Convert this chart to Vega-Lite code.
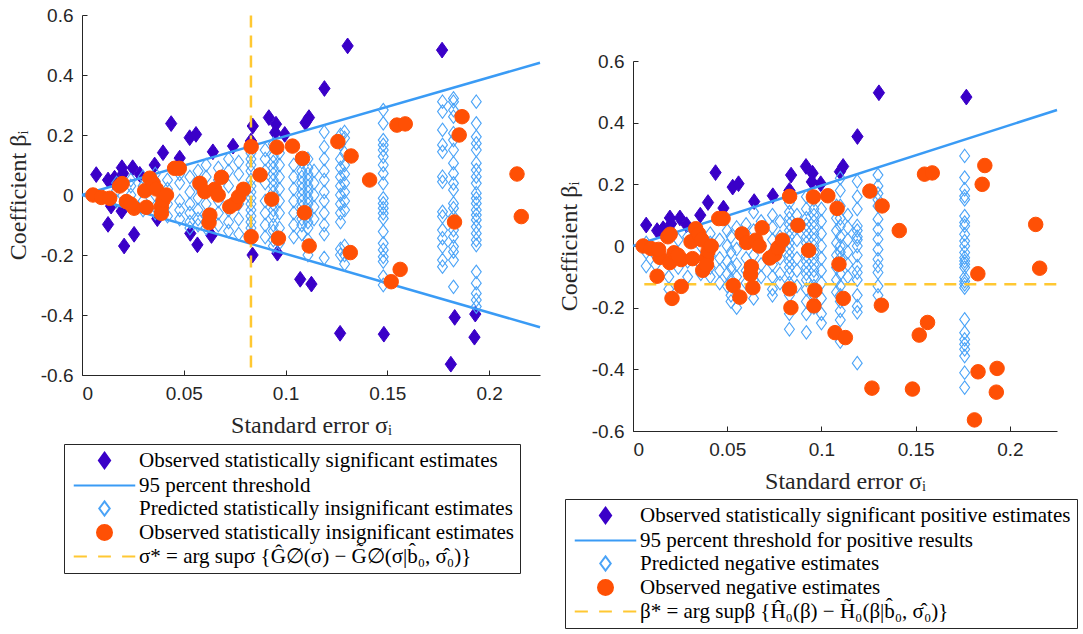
{
"$schema": "https://vega.github.io/schema/vega-lite/v6.json",
"background": "white",
"padding": {"left": 6, "top": 6, "right": 0, "bottom": 0},
"spacing": 12,
"config": {
  "view": {"stroke": null},
  "axis": {"grid": false, "domainColor": "#262626", "tickColor": "#262626", "labelColor": "#262626", "titleColor": "#262626", "labelFont": "Liberation Sans", "labelFontSize": 19, "titleFont": "Liberation Serif", "titleFontSize": 24, "titleFontWeight": "normal", "tickSize": -5, "labelPadding": 14, "titlePadding": 10},
  "legend": {"labelFont": "Liberation Serif", "labelFontSize": 21, "labelColor": "#000000", "strokeColor": "#262626", "fillColor": "white", "padding": 6, "rowPadding": 1, "symbolSize": 225, "labelLimit": 1000, "symbolStrokeWidth": 2, "symbolFillColor": "transparent", "symbolOpacity": 1}
},
"datasets": {
 "left": [
  {"x":0.017,"y":0.04,"c":"c"},{"x":0.017,"y":0.015,"c":"c"},{"x":0.017,"y":-0.02,"c":"c"},
  {"x":0.024,"y":0.05,"c":"c"},{"x":0.024,"y":0.03,"c":"c"},{"x":0.024,"y":0.0,"c":"c"},{"x":0.024,"y":-0.03,"c":"c"},
  {"x":0.03,"y":0.06,"c":"c"},{"x":0.03,"y":0.03,"c":"c"},{"x":0.03,"y":-0.02,"c":"c"},{"x":0.03,"y":-0.05,"c":"c"},
  {"x":0.036,"y":0.07,"c":"c"},{"x":0.036,"y":0.045,"c":"c"},{"x":0.036,"y":0.0,"c":"c"},{"x":0.036,"y":-0.04,"c":"c"},{"x":0.036,"y":-0.06,"c":"c"},
  {"x":0.042,"y":0.05,"c":"c"},{"x":0.042,"y":0.02,"c":"c"},{"x":0.042,"y":-0.03,"c":"c"},{"x":0.042,"y":-0.07,"c":"c"},
  {"x":0.048,"y":0.07,"c":"c"},{"x":0.048,"y":0.04,"c":"c"},{"x":0.048,"y":-0.02,"c":"c"},{"x":0.048,"y":-0.05,"c":"c"},{"x":0.048,"y":-0.08,"c":"c"},
  {"x":0.053,"y":0.06,"c":"c"},{"x":0.053,"y":0.01,"c":"c"},{"x":0.053,"y":-0.03,"c":"c"},{"x":0.053,"y":-0.06,"c":"c"},{"x":0.053,"y":-0.09,"c":"c"},{"x":0.053,"y":-0.11,"c":"c"},
  {"x":0.057,"y":0.08,"c":"c"},{"x":0.057,"y":0.03,"c":"c"},{"x":0.057,"y":-0.01,"c":"c"},{"x":0.057,"y":-0.05,"c":"c"},{"x":0.057,"y":-0.08,"c":"c"},{"x":0.057,"y":-0.1,"c":"c"},
  {"x":0.061,"y":0.1,"c":"c"},{"x":0.061,"y":0.06,"c":"c"},{"x":0.061,"y":-0.03,"c":"c"},{"x":0.061,"y":-0.07,"c":"c"},{"x":0.061,"y":-0.11,"c":"c"},
  {"x":0.067,"y":0.09,"c":"c"},{"x":0.067,"y":0.05,"c":"c"},{"x":0.067,"y":-0.02,"c":"c"},{"x":0.067,"y":-0.06,"c":"c"},{"x":0.067,"y":-0.1,"c":"c"},
  {"x":0.072,"y":0.12,"c":"c"},{"x":0.072,"y":0.08,"c":"c"},{"x":0.072,"y":0.03,"c":"c"},{"x":0.072,"y":-0.05,"c":"c"},{"x":0.072,"y":-0.09,"c":"c"},{"x":0.072,"y":-0.12,"c":"c"},
  {"x":0.077,"y":0.11,"c":"c"},{"x":0.077,"y":0.07,"c":"c"},{"x":0.077,"y":-0.03,"c":"c"},{"x":0.077,"y":-0.08,"c":"c"},{"x":0.077,"y":-0.13,"c":"c"},
  {"x":0.083,"y":0.14,"c":"c"},{"x":0.083,"y":0.12,"c":"c"},{"x":0.083,"y":0.1,"c":"c"},{"x":0.083,"y":0.08,"c":"c"},{"x":0.083,"y":0.05,"c":"c"},{"x":0.083,"y":0.03,"c":"c"},{"x":0.083,"y":0.01,"c":"c"},{"x":0.083,"y":-0.01,"c":"c"},{"x":0.083,"y":-0.03,"c":"c"},{"x":0.083,"y":-0.05,"c":"c"},{"x":0.083,"y":-0.07,"c":"c"},{"x":0.083,"y":-0.09,"c":"c"},{"x":0.083,"y":-0.11,"c":"c"},{"x":0.083,"y":-0.13,"c":"c"},
  {"x":0.09,"y":0.15,"c":"c"},{"x":0.09,"y":0.12,"c":"c"},{"x":0.09,"y":0.08,"c":"c"},{"x":0.09,"y":0.04,"c":"c"},{"x":0.09,"y":-0.02,"c":"c"},{"x":0.09,"y":-0.06,"c":"c"},{"x":0.09,"y":-0.1,"c":"c"},{"x":0.09,"y":-0.14,"c":"c"},
  {"x":0.094,"y":0.17,"c":"c"},{"x":0.094,"y":0.13,"c":"c"},{"x":0.094,"y":0.11,"c":"c"},{"x":0.094,"y":0.09,"c":"c"},{"x":0.094,"y":0.07,"c":"c"},{"x":0.094,"y":0.05,"c":"c"},{"x":0.094,"y":0.03,"c":"c"},{"x":0.094,"y":0.01,"c":"c"},{"x":0.094,"y":-0.01,"c":"c"},{"x":0.094,"y":-0.03,"c":"c"},{"x":0.094,"y":-0.05,"c":"c"},{"x":0.094,"y":-0.07,"c":"c"},{"x":0.094,"y":-0.1,"c":"c"},{"x":0.094,"y":-0.12,"c":"c"},{"x":0.094,"y":-0.15,"c":"c"},{"x":0.094,"y":-0.17,"c":"c"},
  {"x":0.097,"y":0.14,"c":"c"},{"x":0.097,"y":0.1,"c":"c"},{"x":0.097,"y":0.06,"c":"c"},{"x":0.097,"y":0.02,"c":"c"},{"x":0.097,"y":-0.02,"c":"c"},{"x":0.097,"y":-0.06,"c":"c"},{"x":0.097,"y":-0.11,"c":"c"},{"x":0.097,"y":-0.16,"c":"c"},
  {"x":0.104,"y":0.1,"c":"c"},{"x":0.104,"y":0.06,"c":"c"},{"x":0.104,"y":0.02,"c":"c"},{"x":0.104,"y":-0.02,"c":"c"},{"x":0.104,"y":-0.06,"c":"c"},{"x":0.104,"y":-0.1,"c":"c"},{"x":0.104,"y":-0.14,"c":"c"},
  {"x":0.108,"y":0.11,"c":"c"},{"x":0.108,"y":0.08,"c":"c"},{"x":0.108,"y":0.06,"c":"c"},{"x":0.108,"y":0.04,"c":"c"},{"x":0.108,"y":0.02,"c":"c"},{"x":0.108,"y":0.0,"c":"c"},{"x":0.108,"y":-0.02,"c":"c"},{"x":0.108,"y":-0.04,"c":"c"},{"x":0.108,"y":-0.06,"c":"c"},{"x":0.108,"y":-0.08,"c":"c"},{"x":0.108,"y":-0.1,"c":"c"},{"x":0.108,"y":-0.13,"c":"c"},
  {"x":0.111,"y":0.12,"c":"c"},{"x":0.111,"y":0.09,"c":"c"},{"x":0.111,"y":0.07,"c":"c"},{"x":0.111,"y":0.05,"c":"c"},{"x":0.111,"y":0.03,"c":"c"},{"x":0.111,"y":0.01,"c":"c"},{"x":0.111,"y":-0.01,"c":"c"},{"x":0.111,"y":-0.03,"c":"c"},{"x":0.111,"y":-0.05,"c":"c"},{"x":0.111,"y":-0.07,"c":"c"},{"x":0.111,"y":-0.09,"c":"c"},{"x":0.111,"y":-0.11,"c":"c"},{"x":0.111,"y":-0.15,"c":"c"},{"x":0.111,"y":-0.2,"c":"c"},
  {"x":0.114,"y":0.08,"c":"c"},{"x":0.114,"y":0.04,"c":"c"},{"x":0.114,"y":0.0,"c":"c"},{"x":0.114,"y":-0.04,"c":"c"},{"x":0.114,"y":-0.08,"c":"c"},
  {"x":0.119,"y":0.21,"c":"c"},{"x":0.119,"y":0.16,"c":"c"},{"x":0.119,"y":0.12,"c":"c"},{"x":0.119,"y":0.08,"c":"c"},{"x":0.119,"y":0.05,"c":"c"},{"x":0.119,"y":0.01,"c":"c"},{"x":0.119,"y":-0.02,"c":"c"},{"x":0.119,"y":-0.06,"c":"c"},{"x":0.119,"y":-0.1,"c":"c"},{"x":0.119,"y":-0.13,"c":"c"},{"x":0.119,"y":-0.21,"c":"c"},
  {"x":0.127,"y":0.2,"c":"c"},{"x":0.127,"y":0.17,"c":"c"},{"x":0.127,"y":0.12,"c":"c"},{"x":0.127,"y":0.09,"c":"c"},{"x":0.127,"y":0.06,"c":"c"},{"x":0.127,"y":0.03,"c":"c"},{"x":0.127,"y":0.0,"c":"c"},{"x":0.127,"y":-0.03,"c":"c"},{"x":0.127,"y":-0.06,"c":"c"},{"x":0.127,"y":-0.09,"c":"c"},{"x":0.127,"y":-0.18,"c":"c"},{"x":0.127,"y":-0.2,"c":"c"},
  {"x":0.129,"y":0.21,"c":"c"},{"x":0.129,"y":0.19,"c":"c"},{"x":0.129,"y":0.14,"c":"c"},{"x":0.129,"y":0.1,"c":"c"},{"x":0.129,"y":0.07,"c":"c"},{"x":0.129,"y":0.04,"c":"c"},{"x":0.129,"y":0.01,"c":"c"},{"x":0.129,"y":-0.02,"c":"c"},{"x":0.129,"y":-0.05,"c":"c"},{"x":0.129,"y":-0.17,"c":"c"},{"x":0.129,"y":-0.2,"c":"c"},{"x":0.129,"y":-0.23,"c":"c"},
  {"x":0.148,"y":0.283,"c":"c"},{"x":0.148,"y":0.239,"c":"c"},{"x":0.148,"y":0.183,"c":"c"},{"x":0.148,"y":0.167,"c":"c"},{"x":0.148,"y":0.15,"c":"c"},{"x":0.148,"y":0.128,"c":"c"},{"x":0.148,"y":0.1,"c":"c"},{"x":0.148,"y":0.072,"c":"c"},{"x":0.148,"y":0.039,"c":"c"},{"x":0.148,"y":-0.011,"c":"c"},{"x":0.148,"y":-0.028,"c":"c"},{"x":0.148,"y":-0.044,"c":"c"},{"x":0.148,"y":-0.061,"c":"c"},{"x":0.148,"y":-0.078,"c":"c"},{"x":0.148,"y":-0.122,"c":"c"},{"x":0.148,"y":-0.161,"c":"c"},{"x":0.148,"y":-0.183,"c":"c"},{"x":0.148,"y":-0.206,"c":"c"},{"x":0.148,"y":-0.222,"c":"c"},{"x":0.148,"y":-0.272,"c":"c"},{"x":0.148,"y":-0.3,"c":"c"},
  {"x":0.1771,"y":0.311,"c":"c"},{"x":0.1771,"y":0.278,"c":"c"},{"x":0.1771,"y":0.217,"c":"c"},{"x":0.1771,"y":0.167,"c":"c"},{"x":0.1771,"y":0.144,"c":"c"},{"x":0.1771,"y":0.061,"c":"c"},{"x":0.1771,"y":0.044,"c":"c"},{"x":0.1771,"y":-0.056,"c":"c"},{"x":0.1771,"y":-0.072,"c":"c"},{"x":0.1771,"y":-0.117,"c":"c"},{"x":0.1771,"y":-0.144,"c":"c"},{"x":0.1771,"y":-0.172,"c":"c"},{"x":0.1771,"y":-0.217,"c":"c"},{"x":0.1771,"y":-0.239,"c":"c"},
  {"x":0.1825,"y":0.322,"c":"c"},{"x":0.1825,"y":0.311,"c":"c"},{"x":0.1825,"y":0.283,"c":"c"},{"x":0.1825,"y":0.261,"c":"c"},{"x":0.1825,"y":0.206,"c":"c"},{"x":0.1825,"y":0.183,"c":"c"},{"x":0.1825,"y":0.15,"c":"c"},{"x":0.1825,"y":0.106,"c":"c"},{"x":0.1825,"y":0.072,"c":"c"},{"x":0.1825,"y":0.039,"c":"c"},{"x":0.1825,"y":0.017,"c":"c"},{"x":0.1825,"y":-0.028,"c":"c"},{"x":0.1825,"y":-0.044,"c":"c"},{"x":0.1825,"y":-0.072,"c":"c"},{"x":0.1825,"y":-0.117,"c":"c"},{"x":0.1825,"y":-0.139,"c":"c"},{"x":0.1825,"y":-0.172,"c":"c"},{"x":0.1825,"y":-0.189,"c":"c"},{"x":0.1825,"y":-0.217,"c":"c"},{"x":0.1825,"y":-0.306,"c":"c"},
  {"x":0.1937,"y":0.311,"c":"c"},{"x":0.1937,"y":0.239,"c":"c"},{"x":0.1937,"y":0.194,"c":"c"},{"x":0.1937,"y":0.172,"c":"c"},{"x":0.1937,"y":0.15,"c":"c"},{"x":0.1937,"y":0.106,"c":"c"},{"x":0.1937,"y":0.083,"c":"c"},{"x":0.1937,"y":0.061,"c":"c"},{"x":0.1937,"y":0.039,"c":"c"},{"x":0.1937,"y":0.006,"c":"c"},{"x":0.1937,"y":-0.011,"c":"c"},{"x":0.1937,"y":-0.028,"c":"c"},{"x":0.1937,"y":-0.05,"c":"c"},{"x":0.1937,"y":-0.067,"c":"c"},{"x":0.1937,"y":-0.083,"c":"c"},{"x":0.1937,"y":-0.106,"c":"c"},{"x":0.1937,"y":-0.128,"c":"c"},{"x":0.1937,"y":-0.15,"c":"c"},{"x":0.1937,"y":-0.167,"c":"c"},{"x":0.1937,"y":-0.256,"c":"c"},{"x":0.1937,"y":-0.294,"c":"c"},{"x":0.1937,"y":-0.328,"c":"c"},{"x":0.1937,"y":-0.35,"c":"c"},{"x":0.1937,"y":-0.372,"c":"c"},
  {"x":0.007,"y":0.068,"c":"a"},{"x":0.0128,"y":0.05,"c":"a"},{"x":0.0152,"y":0.047,"c":"a"},{"x":0.016,"y":0.056,"c":"a"},{"x":0.0196,"y":0.091,"c":"a"},{"x":0.0202,"y":0.072,"c":"a"},{"x":0.0249,"y":0.091,"c":"a"},{"x":0.0284,"y":0.069,"c":"a"},{"x":0.0357,"y":0.1,"c":"a"},{"x":0.0398,"y":0.141,"c":"a"},{"x":0.0438,"y":0.238,"c":"a"},{"x":0.048,"y":0.123,"c":"a"},{"x":0.0529,"y":0.191,"c":"a"},{"x":0.056,"y":0.202,"c":"a"},{"x":0.0643,"y":0.144,"c":"a"},{"x":0.0742,"y":0.163,"c":"a"},{"x":0.083,"y":0.18,"c":"a"},{"x":0.0839,"y":0.23,"c":"a"},{"x":0.0918,"y":0.258,"c":"a"},{"x":0.0953,"y":0.236,"c":"a"},{"x":0.0949,"y":0.208,"c":"a"},{"x":0.0996,"y":0.202,"c":"a"},{"x":0.1098,"y":0.241,"c":"a"},{"x":0.1115,"y":0.258,"c":"a"},{"x":0.1191,"y":0.355,"c":"a"},{"x":0.1305,"y":0.497,"c":"a"},{"x":0.1769,"y":0.483,"c":"a"},
  {"x":0.0143,"y":-0.037,"c":"a"},{"x":0.0195,"y":-0.054,"c":"a"},{"x":0.037,"y":-0.079,"c":"a"},{"x":0.0128,"y":-0.098,"c":"a"},{"x":0.0207,"y":-0.17,"c":"a"},{"x":0.0256,"y":-0.131,"c":"a"},{"x":0.0532,"y":-0.128,"c":"a"},{"x":0.0567,"y":-0.166,"c":"a"},{"x":0.0636,"y":-0.135,"c":"a"},{"x":0.0838,"y":-0.2,"c":"a"},{"x":0.096,"y":-0.194,"c":"a"},{"x":0.1072,"y":-0.281,"c":"a"},{"x":0.1127,"y":-0.297,"c":"a"},{"x":0.1268,"y":-0.461,"c":"a"},{"x":0.1483,"y":-0.464,"c":"a"},{"x":0.1812,"y":-0.564,"c":"a"},{"x":0.1831,"y":-0.408,"c":"a"},{"x":0.1932,"y":-0.397,"c":"a"},{"x":0.1928,"y":-0.474,"c":"a"},
  {"x":0.0054,"y":0.0,"c":"d"},{"x":0.0095,"y":-0.008,"c":"d"},{"x":0.0136,"y":-0.011,"c":"d"},{"x":0.0185,"y":0.03,"c":"d"},{"x":0.0197,"y":0.038,"c":"d"},{"x":0.0218,"y":-0.022,"c":"d"},{"x":0.0256,"y":-0.044,"c":"d"},{"x":0.0239,"y":-0.03,"c":"d"},{"x":0.0308,"y":0.014,"c":"d"},{"x":0.0316,"y":-0.041,"c":"d"},{"x":0.0333,"y":0.056,"c":"d"},{"x":0.0349,"y":0.039,"c":"d"},{"x":0.0365,"y":0.02,"c":"d"},{"x":0.039,"y":-0.039,"c":"d"},{"x":0.039,"y":-0.061,"c":"d"},{"x":0.0398,"y":-0.017,"c":"d"},{"x":0.0415,"y":0.0,"c":"d"},{"x":0.0455,"y":0.089,"c":"d"},{"x":0.0478,"y":0.089,"c":"d"},{"x":0.0579,"y":0.039,"c":"d"},{"x":0.0603,"y":0.011,"c":"d"},{"x":0.0624,"y":-0.092,"c":"d"},{"x":0.0628,"y":-0.067,"c":"d"},{"x":0.0652,"y":0.019,"c":"d"},{"x":0.0669,"y":0.0,"c":"d"},{"x":0.0685,"y":0.059,"c":"d"},{"x":0.0726,"y":-0.039,"c":"d"},{"x":0.0752,"y":-0.028,"c":"d"},{"x":0.0769,"y":-0.006,"c":"d"},{"x":0.0793,"y":0.019,"c":"d"},{"x":0.0831,"y":0.161,"c":"d"},{"x":0.0831,"y":-0.139,"c":"d"},{"x":0.0875,"y":0.067,"c":"d"},{"x":0.0932,"y":-0.014,"c":"d"},{"x":0.0957,"y":0.159,"c":"d"},{"x":0.0965,"y":-0.144,"c":"d"},{"x":0.1034,"y":0.163,"c":"d"},{"x":0.1083,"y":0.122,"c":"d"},{"x":0.1093,"y":-0.059,"c":"d"},{"x":0.1116,"y":-0.17,"c":"d"},{"x":0.1257,"y":0.178,"c":"d"},{"x":0.1318,"y":-0.192,"c":"d"},{"x":0.1322,"y":0.13,"c":"d"},{"x":0.1413,"y":0.05,"c":"d"},{"x":0.1519,"y":-0.289,"c":"d"},{"x":0.1547,"y":0.233,"c":"d"},{"x":0.1563,"y":-0.248,"c":"d"},{"x":0.1588,"y":0.237,"c":"d"},{"x":0.183,"y":-0.09,"c":"d"},{"x":0.1853,"y":0.2,"c":"d"},{"x":0.1867,"y":0.261,"c":"d"},{"x":0.2137,"y":0.07,"c":"d"},{"x":0.2158,"y":-0.072,"c":"d"}
 ],
 "right": [
  {"x":0.007,"y":0.01,"c":"c"},{"x":0.007,"y":-0.02,"c":"c"},{"x":0.007,"y":-0.065,"c":"c"},
  {"x":0.012,"y":-0.03,"c":"c"},{"x":0.012,"y":-0.06,"c":"c"},
  {"x":0.019,"y":-0.04,"c":"c"},{"x":0.019,"y":-0.1,"c":"c"},{"x":0.019,"y":-0.14,"c":"c"},
  {"x":0.024,"y":0.02,"c":"c"},{"x":0.024,"y":-0.03,"c":"c"},{"x":0.024,"y":-0.07,"c":"c"},
  {"x":0.029,"y":0.03,"c":"c"},{"x":0.029,"y":-0.05,"c":"c"},{"x":0.029,"y":-0.1,"c":"c"},
  {"x":0.036,"y":0.0,"c":"c"},{"x":0.036,"y":-0.06,"c":"c"},{"x":0.036,"y":-0.09,"c":"c"},
  {"x":0.041,"y":0.04,"c":"c"},{"x":0.041,"y":0.01,"c":"c"},{"x":0.041,"y":-0.03,"c":"c"},{"x":0.041,"y":-0.07,"c":"c"},{"x":0.041,"y":-0.1,"c":"c"},
  {"x":0.046,"y":0.02,"c":"c"},{"x":0.046,"y":-0.04,"c":"c"},{"x":0.046,"y":-0.08,"c":"c"},{"x":0.046,"y":-0.12,"c":"c"},
  {"x":0.05,"y":0.05,"c":"c"},{"x":0.05,"y":0.0,"c":"c"},{"x":0.05,"y":-0.05,"c":"c"},{"x":0.05,"y":-0.09,"c":"c"},{"x":0.05,"y":-0.13,"c":"c"},
  {"x":0.052,"y":0.03,"c":"c"},{"x":0.052,"y":-0.02,"c":"c"},{"x":0.052,"y":-0.07,"c":"c"},{"x":0.052,"y":-0.11,"c":"c"},{"x":0.052,"y":-0.16,"c":"c"},{"x":0.052,"y":-0.18,"c":"c"},
  {"x":0.055,"y":0.06,"c":"c"},{"x":0.055,"y":-0.01,"c":"c"},{"x":0.055,"y":-0.06,"c":"c"},{"x":0.055,"y":-0.1,"c":"c"},{"x":0.055,"y":-0.15,"c":"c"},{"x":0.055,"y":-0.2,"c":"c"},
  {"x":0.06,"y":0.07,"c":"c"},{"x":0.06,"y":0.02,"c":"c"},{"x":0.06,"y":-0.04,"c":"c"},{"x":0.06,"y":-0.08,"c":"c"},{"x":0.06,"y":-0.12,"c":"c"},
  {"x":0.064,"y":0.11,"c":"c"},{"x":0.064,"y":0.05,"c":"c"},{"x":0.064,"y":-0.03,"c":"c"},{"x":0.064,"y":-0.11,"c":"c"},{"x":0.064,"y":-0.17,"c":"c"},
  {"x":0.068,"y":0.08,"c":"c"},{"x":0.068,"y":0.0,"c":"c"},{"x":0.068,"y":-0.06,"c":"c"},{"x":0.068,"y":-0.1,"c":"c"},
  {"x":0.074,"y":0.1,"c":"c"},{"x":0.074,"y":0.06,"c":"c"},{"x":0.074,"y":0.02,"c":"c"},{"x":0.074,"y":-0.02,"c":"c"},{"x":0.074,"y":-0.06,"c":"c"},{"x":0.074,"y":-0.1,"c":"c"},{"x":0.074,"y":-0.14,"c":"c"},{"x":0.074,"y":-0.16,"c":"c"},
  {"x":0.078,"y":0.08,"c":"c"},{"x":0.078,"y":0.03,"c":"c"},{"x":0.078,"y":-0.04,"c":"c"},{"x":0.078,"y":-0.09,"c":"c"},{"x":0.078,"y":-0.12,"c":"c"},
  {"x":0.083,"y":0.14,"c":"c"},{"x":0.083,"y":0.11,"c":"c"},{"x":0.083,"y":0.09,"c":"c"},{"x":0.083,"y":0.07,"c":"c"},{"x":0.083,"y":0.05,"c":"c"},{"x":0.083,"y":0.03,"c":"c"},{"x":0.083,"y":0.01,"c":"c"},{"x":0.083,"y":-0.01,"c":"c"},{"x":0.083,"y":-0.03,"c":"c"},{"x":0.083,"y":-0.05,"c":"c"},{"x":0.083,"y":-0.07,"c":"c"},{"x":0.083,"y":-0.09,"c":"c"},{"x":0.083,"y":-0.12,"c":"c"},{"x":0.083,"y":-0.16,"c":"c"},{"x":0.083,"y":-0.22,"c":"c"},{"x":0.083,"y":-0.27,"c":"c"},
  {"x":0.087,"y":0.1,"c":"c"},{"x":0.087,"y":0.06,"c":"c"},{"x":0.087,"y":0.02,"c":"c"},{"x":0.087,"y":-0.04,"c":"c"},{"x":0.087,"y":-0.08,"c":"c"},{"x":0.087,"y":-0.13,"c":"c"},
  {"x":0.092,"y":0.16,"c":"c"},{"x":0.092,"y":0.12,"c":"c"},{"x":0.092,"y":0.09,"c":"c"},{"x":0.092,"y":0.07,"c":"c"},{"x":0.092,"y":0.05,"c":"c"},{"x":0.092,"y":0.03,"c":"c"},{"x":0.092,"y":0.01,"c":"c"},{"x":0.092,"y":-0.01,"c":"c"},{"x":0.092,"y":-0.03,"c":"c"},{"x":0.092,"y":-0.05,"c":"c"},{"x":0.092,"y":-0.07,"c":"c"},{"x":0.092,"y":-0.09,"c":"c"},{"x":0.092,"y":-0.11,"c":"c"},{"x":0.092,"y":-0.14,"c":"c"},{"x":0.092,"y":-0.18,"c":"c"},{"x":0.092,"y":-0.22,"c":"c"},{"x":0.092,"y":-0.28,"c":"c"},
  {"x":0.096,"y":0.15,"c":"c"},{"x":0.096,"y":0.12,"c":"c"},{"x":0.096,"y":0.1,"c":"c"},{"x":0.096,"y":0.08,"c":"c"},{"x":0.096,"y":0.06,"c":"c"},{"x":0.096,"y":0.04,"c":"c"},{"x":0.096,"y":0.02,"c":"c"},{"x":0.096,"y":0.0,"c":"c"},{"x":0.096,"y":-0.02,"c":"c"},{"x":0.096,"y":-0.04,"c":"c"},{"x":0.096,"y":-0.06,"c":"c"},{"x":0.096,"y":-0.08,"c":"c"},{"x":0.096,"y":-0.1,"c":"c"},{"x":0.096,"y":-0.13,"c":"c"},{"x":0.096,"y":-0.16,"c":"c"},{"x":0.096,"y":-0.2,"c":"c"},
  {"x":0.1,"y":0.12,"c":"c"},{"x":0.1,"y":0.08,"c":"c"},{"x":0.1,"y":0.04,"c":"c"},{"x":0.1,"y":0.0,"c":"c"},{"x":0.1,"y":-0.04,"c":"c"},{"x":0.1,"y":-0.08,"c":"c"},{"x":0.1,"y":-0.12,"c":"c"},{"x":0.1,"y":-0.17,"c":"c"},{"x":0.1,"y":-0.22,"c":"c"},{"x":0.1,"y":-0.25,"c":"c"},
  {"x":0.108,"y":0.13,"c":"c"},{"x":0.108,"y":0.09,"c":"c"},{"x":0.108,"y":0.05,"c":"c"},{"x":0.108,"y":0.01,"c":"c"},{"x":0.108,"y":-0.03,"c":"c"},{"x":0.108,"y":-0.07,"c":"c"},{"x":0.108,"y":-0.11,"c":"c"},{"x":0.108,"y":-0.15,"c":"c"},
  {"x":0.11,"y":0.22,"c":"c"},{"x":0.11,"y":0.18,"c":"c"},{"x":0.11,"y":0.13,"c":"c"},{"x":0.11,"y":0.09,"c":"c"},{"x":0.11,"y":0.065,"c":"c"},{"x":0.11,"y":0.03,"c":"c"},{"x":0.11,"y":0.0,"c":"c"},{"x":0.11,"y":-0.02,"c":"c"},{"x":0.11,"y":-0.04,"c":"c"},{"x":0.11,"y":-0.09,"c":"c"},{"x":0.11,"y":-0.13,"c":"c"},{"x":0.11,"y":-0.16,"c":"c"},{"x":0.11,"y":-0.18,"c":"c"},{"x":0.11,"y":-0.21,"c":"c"},{"x":0.11,"y":-0.24,"c":"c"},{"x":0.11,"y":-0.31,"c":"c"},
  {"x":0.114,"y":0.1,"c":"c"},{"x":0.114,"y":0.06,"c":"c"},{"x":0.114,"y":0.02,"c":"c"},{"x":0.114,"y":-0.02,"c":"c"},{"x":0.114,"y":-0.06,"c":"c"},{"x":0.114,"y":-0.1,"c":"c"},
  {"x":0.119,"y":0.21,"c":"c"},{"x":0.119,"y":0.16,"c":"c"},{"x":0.119,"y":0.12,"c":"c"},{"x":0.119,"y":0.065,"c":"c"},{"x":0.119,"y":0.05,"c":"c"},{"x":0.119,"y":0.03,"c":"c"},{"x":0.119,"y":0.02,"c":"c"},{"x":0.119,"y":0.0,"c":"c"},{"x":0.119,"y":-0.03,"c":"c"},{"x":0.119,"y":-0.065,"c":"c"},{"x":0.119,"y":-0.086,"c":"c"},{"x":0.119,"y":-0.11,"c":"c"},{"x":0.119,"y":-0.16,"c":"c"},{"x":0.119,"y":-0.195,"c":"c"},{"x":0.119,"y":-0.215,"c":"c"},{"x":0.119,"y":-0.38,"c":"c"},
  {"x":0.13,"y":0.23,"c":"c"},{"x":0.13,"y":0.195,"c":"c"},{"x":0.13,"y":0.17,"c":"c"},{"x":0.13,"y":0.15,"c":"c"},{"x":0.13,"y":0.13,"c":"c"},{"x":0.13,"y":0.087,"c":"c"},{"x":0.13,"y":0.054,"c":"c"},{"x":0.13,"y":0.022,"c":"c"},{"x":0.13,"y":-0.011,"c":"c"},{"x":0.13,"y":-0.043,"c":"c"},{"x":0.13,"y":-0.065,"c":"c"},{"x":0.13,"y":-0.086,"c":"c"},{"x":0.13,"y":-0.13,"c":"c"},{"x":0.13,"y":-0.16,"c":"c"},
  {"x":0.176,"y":0.292,"c":"c"},{"x":0.176,"y":0.222,"c":"c"},{"x":0.176,"y":0.184,"c":"c"},{"x":0.176,"y":0.162,"c":"c"},{"x":0.176,"y":0.151,"c":"c"},{"x":0.176,"y":0.097,"c":"c"},{"x":0.176,"y":0.076,"c":"c"},{"x":0.176,"y":0.065,"c":"c"},{"x":0.176,"y":0.038,"c":"c"},{"x":0.176,"y":0.016,"c":"c"},{"x":0.176,"y":0.0,"c":"c"},{"x":0.176,"y":-0.021,"c":"c"},{"x":0.176,"y":-0.038,"c":"c"},{"x":0.176,"y":-0.049,"c":"c"},{"x":0.176,"y":-0.059,"c":"c"},{"x":0.176,"y":-0.07,"c":"c"},{"x":0.176,"y":-0.102,"c":"c"},{"x":0.176,"y":-0.114,"c":"c"},{"x":0.176,"y":-0.124,"c":"c"},{"x":0.176,"y":-0.135,"c":"c"},{"x":0.176,"y":-0.238,"c":"c"},{"x":0.176,"y":-0.281,"c":"c"},{"x":0.176,"y":-0.303,"c":"c"},{"x":0.176,"y":-0.319,"c":"c"},{"x":0.176,"y":-0.335,"c":"c"},{"x":0.176,"y":-0.357,"c":"c"},{"x":0.176,"y":-0.411,"c":"c"},{"x":0.176,"y":-0.459,"c":"c"},
  {"x":0.007,"y":0.068,"c":"a"},{"x":0.0128,"y":0.05,"c":"a"},{"x":0.0152,"y":0.047,"c":"a"},{"x":0.016,"y":0.056,"c":"a"},{"x":0.0196,"y":0.091,"c":"a"},{"x":0.0202,"y":0.072,"c":"a"},{"x":0.0249,"y":0.091,"c":"a"},{"x":0.0284,"y":0.069,"c":"a"},{"x":0.0357,"y":0.1,"c":"a"},{"x":0.0398,"y":0.141,"c":"a"},{"x":0.0438,"y":0.238,"c":"a"},{"x":0.048,"y":0.123,"c":"a"},{"x":0.0529,"y":0.191,"c":"a"},{"x":0.056,"y":0.202,"c":"a"},{"x":0.0643,"y":0.144,"c":"a"},{"x":0.0742,"y":0.163,"c":"a"},{"x":0.083,"y":0.18,"c":"a"},{"x":0.0839,"y":0.23,"c":"a"},{"x":0.0918,"y":0.258,"c":"a"},{"x":0.0953,"y":0.236,"c":"a"},{"x":0.0949,"y":0.208,"c":"a"},{"x":0.0996,"y":0.202,"c":"a"},{"x":0.1098,"y":0.241,"c":"a"},{"x":0.1115,"y":0.258,"c":"a"},{"x":0.1191,"y":0.355,"c":"a"},{"x":0.1305,"y":0.497,"c":"a"},{"x":0.1769,"y":0.483,"c":"a"},
  {"x":0.0143,"y":-0.037,"c":"d"},{"x":0.0195,"y":-0.054,"c":"d"},{"x":0.037,"y":-0.079,"c":"d"},{"x":0.0128,"y":-0.098,"c":"d"},{"x":0.0207,"y":-0.17,"c":"d"},{"x":0.0256,"y":-0.131,"c":"d"},{"x":0.0532,"y":-0.128,"c":"d"},{"x":0.0567,"y":-0.166,"c":"d"},{"x":0.0636,"y":-0.135,"c":"d"},{"x":0.0838,"y":-0.2,"c":"d"},{"x":0.096,"y":-0.194,"c":"d"},{"x":0.1072,"y":-0.281,"c":"d"},{"x":0.1127,"y":-0.297,"c":"d"},{"x":0.1268,"y":-0.461,"c":"d"},{"x":0.1483,"y":-0.464,"c":"d"},{"x":0.1812,"y":-0.564,"c":"d"},{"x":0.1831,"y":-0.408,"c":"d"},{"x":0.1932,"y":-0.397,"c":"d"},{"x":0.1928,"y":-0.474,"c":"d"},
  {"x":0.0054,"y":0.0,"c":"d"},{"x":0.0095,"y":-0.008,"c":"d"},{"x":0.0136,"y":-0.011,"c":"d"},{"x":0.0185,"y":0.03,"c":"d"},{"x":0.0197,"y":0.038,"c":"d"},{"x":0.0218,"y":-0.022,"c":"d"},{"x":0.0256,"y":-0.044,"c":"d"},{"x":0.0239,"y":-0.03,"c":"d"},{"x":0.0308,"y":0.014,"c":"d"},{"x":0.0316,"y":-0.041,"c":"d"},{"x":0.0333,"y":0.056,"c":"d"},{"x":0.0349,"y":0.039,"c":"d"},{"x":0.0365,"y":0.02,"c":"d"},{"x":0.039,"y":-0.039,"c":"d"},{"x":0.039,"y":-0.061,"c":"d"},{"x":0.0398,"y":-0.017,"c":"d"},{"x":0.0415,"y":0.0,"c":"d"},{"x":0.0455,"y":0.089,"c":"d"},{"x":0.0478,"y":0.089,"c":"d"},{"x":0.0579,"y":0.039,"c":"d"},{"x":0.0603,"y":0.011,"c":"d"},{"x":0.0624,"y":-0.092,"c":"d"},{"x":0.0628,"y":-0.067,"c":"d"},{"x":0.0652,"y":0.019,"c":"d"},{"x":0.0669,"y":0.0,"c":"d"},{"x":0.0685,"y":0.059,"c":"d"},{"x":0.0726,"y":-0.039,"c":"d"},{"x":0.0752,"y":-0.028,"c":"d"},{"x":0.0769,"y":-0.006,"c":"d"},{"x":0.0793,"y":0.019,"c":"d"},{"x":0.0831,"y":0.161,"c":"d"},{"x":0.0831,"y":-0.139,"c":"d"},{"x":0.0875,"y":0.067,"c":"d"},{"x":0.0932,"y":-0.014,"c":"d"},{"x":0.0957,"y":0.159,"c":"d"},{"x":0.0965,"y":-0.144,"c":"d"},{"x":0.1034,"y":0.163,"c":"d"},{"x":0.1083,"y":0.122,"c":"d"},{"x":0.1093,"y":-0.059,"c":"d"},{"x":0.1116,"y":-0.17,"c":"d"},{"x":0.1257,"y":0.178,"c":"d"},{"x":0.1318,"y":-0.192,"c":"d"},{"x":0.1322,"y":0.13,"c":"d"},{"x":0.1413,"y":0.05,"c":"d"},{"x":0.1519,"y":-0.289,"c":"d"},{"x":0.1547,"y":0.233,"c":"d"},{"x":0.1563,"y":-0.248,"c":"d"},{"x":0.1588,"y":0.237,"c":"d"},{"x":0.183,"y":-0.09,"c":"d"},{"x":0.1853,"y":0.2,"c":"d"},{"x":0.1867,"y":0.261,"c":"d"},{"x":0.2137,"y":0.07,"c":"d"},{"x":0.2158,"y":-0.072,"c":"d"}
 ],
 "leftLines": [{"x":0,"y":0,"s":"u"},{"x":0.225,"y":0.441,"s":"u"},{"x":0,"y":0,"s":"l"},{"x":0.225,"y":-0.441,"s":"l"}],
 "rightLines": [{"x":0,"y":0,"s":"u"},{"x":0.225,"y":0.441,"s":"u"}]
},
"hconcat": [
 {
  "width": 458, "height": 360,
  "data": {"name": "left"},
  "encoding": {
    "x": {"field": "x", "type": "quantitative", "scale": {"domain": [0, 0.225], "nice": false, "zero": false}, "axis": {"values": [0, 0.05, 0.1, 0.15, 0.2], "labelExpr": "'' + datum.value", "title": "Standard error σᵢ"}},
    "y": {"field": "y", "type": "quantitative", "scale": {"domain": [-0.6, 0.6], "nice": false, "zero": false}, "axis": {"values": [-0.6, -0.4, -0.2, 0, 0.2, 0.4, 0.6], "labelExpr": "'' + datum.value", "title": "Coefficient βᵢ"}}
  },
  "layer": [
   {"transform": [{"filter": "datum.c == 'a'"}],
    "mark": {"type": "point", "size": 225, "opacity": 1, "strokeWidth": 1},
    "encoding": {
      "shape": {"field": "c", "type": "nominal", "scale": {"domain": ["a","b","c","d","e"], "range": ["M0,-1.05L0.75,0L0,1.05L-0.75,0Z", "M-4.1,0L4.1,0", "M0,-0.95L0.7,0L0,0.95L-0.7,0Z", "circle", "M-4.1,0L-2.35,0M-0.85,0L0.85,0M2.35,0L4.1,0"]},
        "legend": {"orient": "none", "legendX": -18, "legendY": 429, "title": null, "symbolOffset": 24, "labelOffset": 24, "labelExpr": "datum.value == 'a' ? 'Observed statistically significant estimates' : datum.value == 'b' ? '95 percent threshold' : datum.value == 'c' ? 'Predicted statistically insignificant estimates' : datum.value == 'd' ? 'Observed statistically insignificant estimates' : 'σ* = arg supσ {Ĝ∅(σ) − G̃∅(σ|b̂₀, σ̂₀)}'", "encode": {"symbols": {"update": {"strokeWidth": {"value": 2}, "opacity": {"value": 1}}}}}},
      "fill": {"field": "c", "type": "nominal", "scale": {"domain": ["a","b","c","d","e"], "range": ["#3a00c8", "transparent", "transparent", "#ff5005", "transparent"]}},
      "stroke": {"field": "c", "type": "nominal", "scale": {"domain": ["a","b","c","d","e"], "range": ["#3a00c8", "#3a9bf5", "#4aa3f7", "#ff5005", "#ffc832"]}}
    }
   },
   {"data": {"name": "leftLines"}, "mark": {"type": "line", "color": "#3a9bf5", "strokeWidth": 2.5}, "encoding": {"detail": {"field": "s", "type": "nominal"}}},
   {"transform": [{"filter": "datum.c == 'c'"}],
    "mark": {"type": "point", "size": 200, "opacity": 1, "strokeWidth": 1.1},
    "encoding": {"shape": {"field": "c", "type": "nominal"}, "fill": {"field": "c", "type": "nominal"}, "stroke": {"field": "c", "type": "nominal"}}
   },
   {"data": {"values": [{"x": 0.083, "y": 0.598, "y2": -0.588}]}, "mark": {"type": "rule", "color": "#ffc832", "strokeWidth": 2.5, "strokeDash": [12, 8]}, "encoding": {"y2": {"field": "y2"}}},
   {"transform": [{"filter": "datum.c == 'd'"}],
    "mark": {"type": "point", "size": 210, "opacity": 1, "strokeWidth": 1},
    "encoding": {"shape": {"field": "c", "type": "nominal"}, "fill": {"field": "c", "type": "nominal"}, "stroke": {"field": "c", "type": "nominal"}}
   }
  ]
 },
 {
  "spacing": 0,
  "vconcat": [
   {"width": 424, "height": 37, "data": {"values": []}, "mark": {"type": "point", "opacity": 0}},
   {
    "width": 424, "height": 370,
    "data": {"name": "right"},
    "encoding": {
      "x": {"field": "x", "type": "quantitative", "scale": {"domain": [0, 0.225], "nice": false, "zero": false}, "axis": {"values": [0, 0.05, 0.1, 0.15, 0.2], "labelExpr": "'' + datum.value", "title": "Standard error σᵢ"}},
      "y": {"field": "y", "type": "quantitative", "scale": {"domain": [-0.6, 0.6], "nice": false, "zero": false}, "axis": {"values": [-0.6, -0.4, -0.2, 0, 0.2, 0.4, 0.6], "labelExpr": "'' + datum.value", "title": "Coefficient βᵢ"}}
    },
    "layer": [
     {"transform": [{"filter": "datum.c == 'a'"}],
      "mark": {"type": "point", "size": 225, "opacity": 1, "strokeWidth": 1},
      "encoding": {
        "shape": {"field": "c", "type": "nominal", "scale": {"domain": ["a","b","c","d","e"], "range": ["M0,-1.05L0.75,0L0,1.05L-0.75,0Z", "M-4.1,0L4.1,0", "M0,-0.95L0.7,0L0,0.95L-0.7,0Z", "circle", "M-4.1,0L-2.35,0M-0.85,0L0.85,0M2.35,0L4.1,0"]},
          "legend": {"orient": "none", "legendX": -68, "legendY": 484, "title": null, "symbolOffset": 24, "labelOffset": 24, "labelExpr": "datum.value == 'a' ? 'Observed statistically significant positive estimates' : datum.value == 'b' ? '95 percent threshold for positive results' : datum.value == 'c' ? 'Predicted negative estimates' : datum.value == 'd' ? 'Observed negative estimates' : 'β* = arg supβ {Ĥ₀(β) − H̃₀(β|b̂₀, σ̂₀)}'", "encode": {"symbols": {"update": {"strokeWidth": {"value": 2}, "opacity": {"value": 1}}}}}},
        "fill": {"field": "c", "type": "nominal", "scale": {"domain": ["a","b","c","d","e"], "range": ["#3a00c8", "transparent", "transparent", "#ff5005", "transparent"]}},
        "stroke": {"field": "c", "type": "nominal", "scale": {"domain": ["a","b","c","d","e"], "range": ["#3a00c8", "#3a9bf5", "#4aa3f7", "#ff5005", "#ffc832"]}}
      }
     },
     {"data": {"name": "rightLines"}, "mark": {"type": "line", "color": "#3a9bf5", "strokeWidth": 2.5}, "encoding": {"detail": {"field": "s", "type": "nominal"}}},
     {"transform": [{"filter": "datum.c == 'c'"}],
      "mark": {"type": "point", "size": 200, "opacity": 1, "strokeWidth": 1.1},
      "encoding": {"shape": {"field": "c", "type": "nominal"}, "fill": {"field": "c", "type": "nominal"}, "stroke": {"field": "c", "type": "nominal"}}
     },
     {"data": {"values": [{"x": 0.006, "x2": 0.225, "y": -0.124}]}, "mark": {"type": "rule", "color": "#ffc832", "strokeWidth": 2.5, "strokeDash": [12, 8]}, "encoding": {"x2": {"field": "x2"}}},
     {"transform": [{"filter": "datum.c == 'd'"}],
      "mark": {"type": "point", "size": 210, "opacity": 1, "strokeWidth": 1},
      "encoding": {"shape": {"field": "c", "type": "nominal"}, "fill": {"field": "c", "type": "nominal"}, "stroke": {"field": "c", "type": "nominal"}}
     }
    ]
   }
  ]
 }
],
"resolve": {
  "scale": {"x": "independent", "y": "independent", "shape": "independent", "fill": "independent", "stroke": "independent"},
  "legend": {"shape": "independent", "fill": "independent", "stroke": "independent"}
}
}
